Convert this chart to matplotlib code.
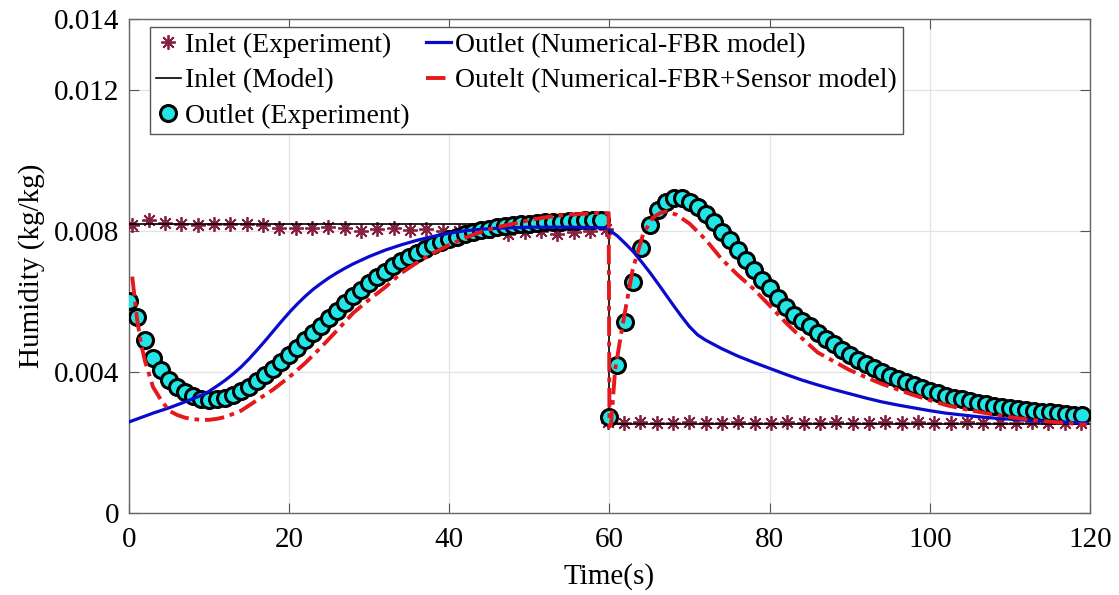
import matplotlib
matplotlib.use("Agg")
import matplotlib.pyplot as plt
import numpy as np

plt.rcParams['font.family'] = ['Liberation Serif', 'DejaVu Serif']

# Inlet (Experiment) - asterisks, about every 2 s
t_in_hi = np.linspace(0.4, 59.6, 30)
h_in_hi = [0.00816, 0.00830, 0.00822, 0.00819, 0.00816, 0.00819, 0.00819, 0.00819, 0.00816, 0.00808,
           0.00808, 0.00808, 0.00810, 0.00808, 0.00800, 0.00805, 0.00808, 0.00803, 0.00805, 0.00800,
           0.00798, 0.00795, 0.00798, 0.00792, 0.00795, 0.00798, 0.00792, 0.00795, 0.00800, 0.00805]
t_in_lo = np.linspace(59.8, 118.9, 30)
h_in_lo = [0.00258, 0.00256, 0.00257, 0.00255, 0.00256, 0.00258, 0.00255, 0.00256, 0.00257, 0.00255,
           0.00256, 0.00258, 0.00256, 0.00255, 0.00257, 0.00256, 0.00255, 0.00257, 0.00256, 0.00258,
           0.00255, 0.00256, 0.00257, 0.00255, 0.00256, 0.00255, 0.00257, 0.00256, 0.00255, 0.00256]

# Inlet (Model)
t_in_model = [0, 60, 60, 120]
h_in_model = [0.00818, 0.00818, 0.00253, 0.00253]

# Outlet (Experiment) - circles every 1 s
t_out = np.arange(0, 120)
h_out = [0.00600, 0.00555, 0.00490, 0.00440, 0.00405, 0.00378, 0.00358, 0.00343, 0.00332, 0.00324,
         0.00320, 0.00322, 0.00327, 0.00335, 0.00345, 0.00358, 0.00373, 0.00390, 0.00408, 0.00428,
         0.00448, 0.00468, 0.00489, 0.00510, 0.00531, 0.00552, 0.00573, 0.00594, 0.00614, 0.00633,
         0.00651, 0.00668, 0.00684, 0.00699, 0.00713, 0.00726, 0.00738, 0.00749, 0.00759, 0.00768,
         0.00776, 0.00783, 0.00790, 0.00796, 0.00801, 0.00806, 0.00810, 0.00813, 0.00816, 0.00818,
         0.00820, 0.00822, 0.00824, 0.00825, 0.00826, 0.00827, 0.00828, 0.00829, 0.00830, 0.00830,
         0.00273, 0.00420, 0.00540, 0.00655, 0.00750, 0.00816, 0.00859, 0.00880, 0.00893, 0.00893,
         0.00880, 0.00867, 0.00847, 0.00825, 0.00796, 0.00774, 0.00745, 0.00717, 0.00689, 0.00660,
         0.00637, 0.00610, 0.00584, 0.00560, 0.00545, 0.00530, 0.00510, 0.00494, 0.00478, 0.00463,
         0.00449, 0.00435, 0.00422, 0.00410, 0.00399, 0.00389, 0.00380, 0.00371, 0.00362, 0.00354,
         0.00347, 0.00340, 0.00333, 0.00327, 0.00322, 0.00317, 0.00312, 0.00308, 0.00304, 0.00300,
         0.00297, 0.00294, 0.00291, 0.00289, 0.00287, 0.00285, 0.00283, 0.00281, 0.00279, 0.00277]

# Outlet (Numerical-FBR model)
t_fbr = [0, 3, 5, 7, 9, 10, 11, 12, 13, 14, 15, 16, 17, 18, 19, 20, 21, 22, 23, 24, 25, 26, 27, 28, 30,
         32, 34, 36, 38, 40, 42, 44, 46, 50, 55, 59.8, 60.1, 61, 62, 63, 64, 65, 66, 67, 68, 69, 70, 71,
         72, 74, 76, 78, 80, 82, 84, 86, 88, 90, 92, 94, 96, 98, 100, 102, 104, 106, 108, 110, 112, 114,
         116, 118, 119.6]
h_fbr = [0.00258, 0.00283, 0.00298, 0.00315, 0.00333, 0.00345, 0.00360, 0.00376, 0.00394, 0.00414,
         0.00437, 0.00462, 0.00488, 0.00515, 0.00542, 0.00568, 0.00592, 0.00614, 0.00634, 0.00651,
         0.00667, 0.00681, 0.00694, 0.00706, 0.00727, 0.00745, 0.00760, 0.00773, 0.00784, 0.00793,
         0.00800, 0.00804, 0.00807, 0.00810, 0.00810, 0.00808, 0.00800, 0.00785, 0.00763, 0.00740,
         0.00712, 0.00683, 0.00652, 0.00620, 0.00588, 0.00557, 0.00528, 0.00505, 0.00490, 0.00466,
         0.00445, 0.00427, 0.00410, 0.00393, 0.00377, 0.00363, 0.00350, 0.00338, 0.00326, 0.00315,
         0.00306, 0.00298, 0.00290, 0.00283, 0.00278, 0.00273, 0.00269, 0.00266, 0.00263, 0.00260,
         0.00258, 0.00256, 0.00255]

# Outelt (Numerical-FBR+Sensor model)
t_sens = [0.4, 1, 1.5, 2, 3, 4, 5, 6, 7, 8, 9, 10, 11, 12, 14, 16, 18, 20, 22, 24, 26, 28, 30, 32, 34,
          36, 38, 40, 42, 44, 46, 48, 50, 52, 54, 56, 58, 59.9, 60, 60.2, 60.7, 61.7, 62.9, 64.2, 65.4,
          66.3, 67.1, 68.4, 70, 72, 74, 76, 78, 80, 82, 84, 86, 88, 90, 92, 94, 96, 98, 100, 102, 104,
          106, 108, 110, 112, 114, 116, 118, 119.6]
h_sens = [0.00670, 0.00550, 0.00480, 0.00430, 0.00357, 0.00320, 0.00290, 0.00278, 0.00270, 0.00266,
          0.00264, 0.00264, 0.00267, 0.00272, 0.00290, 0.00320, 0.00350, 0.00385, 0.00425, 0.00470,
          0.00518, 0.00567, 0.00605, 0.00640, 0.00680, 0.00710, 0.00737, 0.00760, 0.00780, 0.00797,
          0.00810, 0.00820, 0.00830, 0.00838, 0.00844, 0.00847, 0.00850, 0.00850, 0.00245, 0.00250,
          0.00405, 0.00540, 0.00690, 0.00790, 0.00836, 0.00850, 0.00855, 0.00845, 0.00820, 0.00775,
          0.00720, 0.00675, 0.00635, 0.00588, 0.00540, 0.00496, 0.00455, 0.00430, 0.00405, 0.00385,
          0.00366, 0.00350, 0.00334, 0.00320, 0.00306, 0.00296, 0.00287, 0.00279, 0.00272, 0.00266,
          0.00261, 0.00257, 0.00253, 0.00250]

y_ticks = [0, 0.004, 0.008, 0.012, 0.014]
y_tick_labels = ['0', '0.004', '0.008', '0.012', '0.014']
x_ticks = [0, 20, 40, 60, 80, 100, 120]

fig = plt.figure(figsize=(11.19, 5.95), dpi=100)
ax = fig.add_axes([0.1153, 0.1378, 0.8587, 0.8303])

star = (8, 2, 0)  # '+' and 'x' combined, like MATLAB '*'
l1, = ax.plot(np.concatenate([t_in_hi, t_in_lo]), h_in_hi + h_in_lo, linestyle='none', marker=star,
              color='#84213F', markersize=10.5, markeredgewidth=1.3, label='Inlet (Experiment)', zorder=3)
l2, = ax.plot(t_in_model, h_in_model, color='black', lw=1.2, label='Inlet (Model)', zorder=4)
l3, = ax.plot(t_out, h_out, linestyle='none', marker='o', markersize=11.5, markerfacecolor='#22E5E5',
              markeredgecolor='black', markeredgewidth=2.2, label='Outlet (Experiment)', zorder=5)
l4, = ax.plot(t_fbr, h_fbr, color='#0A0ACD', lw=2.3, label='Outlet (Numerical-FBR model)', zorder=6)
l5, = ax.plot(t_sens, h_sens, color='#E5191C', lw=2.8, dashes=(5, 1.5, 1.2, 1.5),
              label='Outelt (Numerical-FBR+Sensor model)', zorder=7)

ax.set_xlim(0, 120)
ax.set_ylim(0, 0.014)
ax.set_xticks(x_ticks)
ax.set_xticklabels([str(v) for v in x_ticks])
ax.set_yticks(y_ticks)
ax.set_yticklabels(y_tick_labels)
ax.tick_params(direction='in', top=True, right=True, length=7, width=0.8, color='#555555',
               labelsize=21, pad=7)
ax.tick_params(axis='x', pad=10)
for s in ax.spines.values():
    s.set_color('#666666')
    s.set_linewidth(1.0)
ax.grid(True, color='#E3E3E3', lw=0.9)
ax.set_axisbelow(True)

ax.set_xlabel('Time(s)', fontsize=21, labelpad=7)
ax.set_ylabel('Humidity (kg/kg)', fontsize=21, labelpad=6)

leg = ax.legend(handles=[l1, l2, l3, l4, l5], ncol=2, loc='upper left', bbox_to_anchor=(0.022, 0.984),
                borderaxespad=0, fontsize=20, frameon=True, fancybox=False, edgecolor='#555555',
                handlelength=0.9, handletextpad=0.15, columnspacing=0.6, labelspacing=0.36,
                borderpad=0.2, framealpha=1)
leg.get_frame().set_linewidth(1.0)

fig.savefig('out.png', dpi=100)
